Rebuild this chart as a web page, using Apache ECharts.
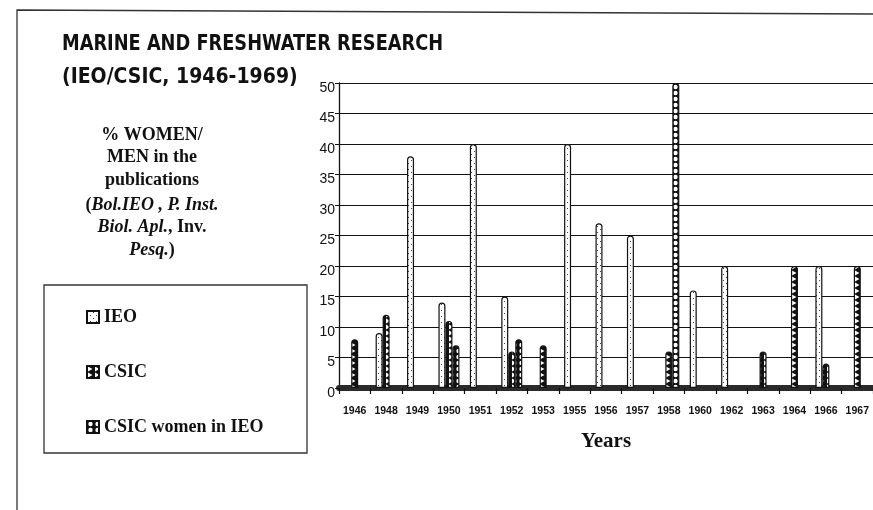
<!DOCTYPE html>
<html>
<head>
<meta charset="utf-8">
<script src="https://cdn.jsdelivr.net/npm/echarts@6/dist/echarts.min.js"></script>
<style>
html,body{margin:0;padding:0;background:#fff;}
#chart{width:873px;height:510px;}
</style>
</head>
<body>
<div id="chart"></div>
<script>
// ---- data ----
const years = ['1946','1948','1949','1950','1951','1952','1953','1955','1956','1957','1958','1960','1962','1963','1964','1966','1967'];
const ieo   = [0, 9, 38, 14, 40, 15, 0, 40, 27, 25, 0, 16, 20, 0, 0, 20, 0];
const csic  = [8, 12, 0, 11, 0, 6, 7, 0, 0, 0, 6, 0, 0, 6, 20, 4, 20];
const women = [0, 0, 0, 7, 0, 8, 0, 0, 0, 0, 50, 0, 0, 0, 0, 0, 0];
const seriesNames = ['IEO', 'CSIC', 'CSIC women in IEO'];
const yTicks = {min: 0, max: 50, interval: 5};

// ---- patterns ----
function pattern(kind) {
  const c = document.createElement('canvas');
  const ctx = c.getContext('2d');
  if (kind === 'ieo') {
    c.width = 6; c.height = 6;
    ctx.fillStyle = '#fff'; ctx.fillRect(0, 0, 6, 6);
    ctx.fillStyle = '#444';
    ctx.fillRect(0, 1, 1, 1); ctx.fillRect(3, 4, 1, 1);
  } else if (kind === 'csic') {
    c.width = 7; c.height = 6;
    ctx.fillStyle = '#111'; ctx.fillRect(0, 0, 7, 6);
    ctx.fillStyle = '#fff';
    ctx.beginPath(); ctx.moveTo(1, 0.5); ctx.lineTo(5.5, 3); ctx.lineTo(1, 5.5); ctx.closePath(); ctx.fill();
  } else {
    c.width = 7; c.height = 6;
    ctx.fillStyle = '#111'; ctx.fillRect(0, 0, 7, 6);
    ctx.fillStyle = '#fff';
    ctx.beginPath(); ctx.arc(3.5, 3, 2.2, 0, Math.PI * 2); ctx.fill();
  }
  return {image: c, repeat: 'repeat'};
}
const fills = [pattern('ieo'), pattern('csic'), pattern('women')];
const values = [ieo, csic, women];

const chart = echarts.init(document.getElementById('chart'), null, {renderer: 'canvas'});
const SERIF = "'Liberation Serif', 'Times New Roman', serif";
const SANS = "'Liberation Sans', Arial, sans-serif";
const NARROW = "'DejaVu Sans Condensed', 'Liberation Sans', sans-serif";

function leftText(y, text) {
  return {
    type: 'text', x: 152, y: y, z: 10,
    style: {
      text: text, rich: rich,
      align: 'center', verticalAlign: 'middle',
      textAlign: 'center', textVerticalAlign: 'middle',
      fill: '#111', font: 'bold 18px ' + SERIF
    }
  };
}
const rich = {
  b: {fontFamily: SERIF, fontWeight: 'bold', fontSize: 18, color: '#111'},
  bi: {fontFamily: SERIF, fontWeight: 'bold', fontStyle: 'italic', fontSize: 18, color: '#111'}
};

const option = {
  backgroundColor: '#fff',
  animation: false,
  grid: {left: 339, right: -2, top: 83, bottom: 122, containLabel: false},
  legend: {
    orient: 'vertical', left: 81, top: 302,
    itemWidth: 12, itemHeight: 12, itemGap: 35,
    icon: 'rect',
    textStyle: {fontFamily: SERIF, fontWeight: 'bold', fontSize: 18, color: '#111', lineHeight: 20, padding: [0, 0, 0, 0]},
    data: seriesNames
  },
  xAxis: {
    type: 'category', data: years,
    offset: 3,
    axisLine: {show: true, lineStyle: {color: '#2a2a2a', width: 6}},
    axisTick: {show: true, alignWithLabel: false, length: 6, lineStyle: {color: '#111', width: 1.2}},
    axisLabel: {fontFamily: SANS, fontWeight: 'bold', fontSize: 10.5, color: '#111', margin: 15, interval: 0},
    name: 'Years', nameLocation: 'middle', nameGap: 40,
    nameTextStyle: {fontFamily: SERIF, fontWeight: 'bold', fontSize: 21, color: '#111'}
  },
  yAxis: {
    type: 'value', min: yTicks.min, max: yTicks.max, interval: yTicks.interval,
    axisLine: {show: true, lineStyle: {color: '#111', width: 1.3}},
    axisTick: {show: true, length: 4, lineStyle: {color: '#111'}},
    axisLabel: {fontFamily: SANS, fontSize: 14, color: '#111', margin: 4,
                verticalAlign: 'top', lineHeight: 10},
    splitLine: {show: true, lineStyle: {color: '#111', width: 1.2}}
  },
  series: seriesNames.map((name, i) => ({
    name: name, type: 'bar',
    data: values[i].map(v => v === 0 ? null : v),
    barWidth: 7, barGap: '0%', barCategoryGap: '10%',
    itemStyle: {color: fills[i], borderColor: '#111', borderWidth: 1.2, borderRadius: [3, 3, 0, 0]}
  })),
  graphic: [
    {type: 'polyline', z: 0, silent: true,
     shape: {points: [[17, 510], [17, 10], [873, 14]]},
     style: {stroke: '#333', lineWidth: 1.3, fill: null}},
    {type: 'rect', z: 0, silent: true,
     shape: {x: 44, y: 285, width: 263, height: 168},
     style: {stroke: '#333', lineWidth: 1.3, fill: null}},
    {type: 'text', x: 62, y: 45, z: 10, scaleX: 0.94, originX: 0, originY: 0,
     style: {text: 'MARINE AND FRESHWATER RESEARCH', fill: '#111',
             font: 'bold 21px ' + NARROW, verticalAlign: 'middle', textVerticalAlign: 'middle'}},
    {type: 'text', x: 62, y: 78, z: 10,
     style: {text: '(IEO/CSIC, 1946-1969)', fill: '#111',
             font: 'bold 21px ' + NARROW, verticalAlign: 'middle', textVerticalAlign: 'middle'}},
    leftText(135, '{b|% WOMEN/}'),
    leftText(157, '{b|MEN in the}'),
    leftText(180, '{b|publications}'),
    leftText(205, '{b|(}{bi|Bol.IEO , P. Inst.}'),
    leftText(227, '{bi|Biol. Apl.}{b|, Inv.}'),
    leftText(250, '{bi|Pesq.}{b|)}')
  ]
};
chart.setOption(option);
</script>
</body>
</html>
